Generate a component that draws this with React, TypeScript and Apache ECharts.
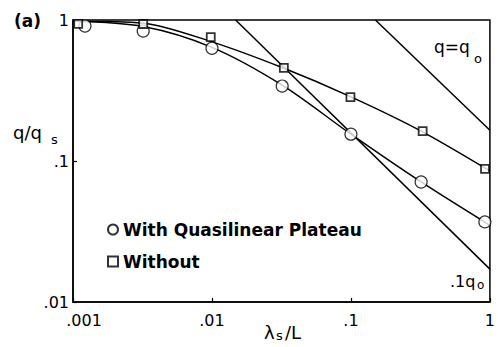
import React, { useEffect, useRef } from "react";
import * as echarts from "echarts";

// Tick values and their printed labels
const xTickValues = [0.001, 0.01, 0.1, 1];
const xTickLabels = [".001", ".01", ".1", "1"];
const yTickValues = [0.01, 0.1, 1];
const yTickLabels = [".01", ".1", "1"];

// Fitted curves
const curveX = [0.001, 0.0032, 0.01, 0.032, 0.1, 0.32, 1];
const curveWithY = [0.98, 0.9, 0.64, 0.345, 0.155, 0.071, 0.035];
const curveWithoutY = [0.98, 0.95, 0.7, 0.46, 0.285, 0.163, 0.085];

// Data markers
const withX = [0.00122, 0.0032, 0.01, 0.032, 0.1, 0.32, 0.92];
const withY = [0.906, 0.836, 0.63, 0.34, 0.155, 0.071, 0.037];
const withoutX = [0.00109, 0.0032, 0.0098, 0.0329, 0.0992, 0.328, 0.922];
const withoutY = [0.94, 0.937, 0.757, 0.457, 0.284, 0.163, 0.088];

// Reference lines q = q0 and q = 0.1 q0
const q0X = [0.15, 1];
const q0Y = [1, 0.165];
const tenthQ0X = [0.0148, 1];
const tenthQ0Y = [1, 0.0171];

const FONT = "DejaVu Sans";

function pairs(xs: number[], ys: number[]) {
  return xs.map((x, i) => [x, ys[i]]);
}

function labelFor(v: number, vals: number[], labels: string[]) {
  const e = Math.round(Math.log10(v));
  const i = vals.findIndex((t) => Math.round(Math.log10(t)) === e);
  return i >= 0 ? labels[i] : "";
}

export default function App() {
  const ref = useRef<HTMLDivElement>(null);
  useEffect(() => {
    if (!ref.current) return;
    const chart = echarts.init(ref.current, null, { renderer: "svg" });
    const lineStyle = { color: "#000", width: 1.5 };
    chart.setOption({
      animation: false,
      backgroundColor: "#fff",
      grid: {
        left: 73,
        right: 3,
        top: 20,
        bottom: 45,
        show: true,
        borderColor: "#000",
        borderWidth: 1.5,
        backgroundColor: "transparent",
      },
      xAxis: {
        type: "log",
        logBase: 10,
        min: 0.001,
        max: 1,
        splitLine: { show: false },
        minorTick: { show: false },
        axisLine: { lineStyle: { color: "#000", width: 1.5 } },
        axisTick: { inside: true, length: 4, lineStyle: { color: "#000", width: 1.2 } },
        axisLabel: {
          margin: 10,
          color: "#000",
          fontSize: 16,
          fontFamily: FONT,
          formatter: (v: number) => {
            const s = labelFor(v, xTickValues, xTickLabels);
            return s === xTickLabels[0] ? "{first|" + s + "}" : s;
          },
          rich: {
            first: { fontSize: 16, fontFamily: FONT, color: "#000", padding: [0, 0, 0, 22] },
          },
        },
      },
      yAxis: {
        type: "log",
        logBase: 10,
        min: 0.01,
        max: 1,
        splitLine: { show: false },
        minorTick: { show: false },
        axisLine: { lineStyle: { color: "#000", width: 1.5 } },
        axisTick: { inside: true, length: 4, lineStyle: { color: "#000", width: 1.2 } },
        axisLabel: {
          margin: 4,
          color: "#000",
          fontSize: 16,
          fontFamily: FONT,
          formatter: (v: number) => labelFor(v, yTickValues, yTickLabels),
        },
      },
      legend: {
        orient: "vertical",
        left: 102,
        top: 216,
        itemGap: 15,
        itemWidth: 10,
        itemHeight: 10,
        textStyle: { fontSize: 17, fontWeight: "bold", fontFamily: FONT, color: "#000" },
        data: ["With Quasilinear Plateau", "Without"],
      },
      series: [
        {
          name: "curveWith",
          type: "line",
          smooth: 0.3,
          showSymbol: false,
          symbol: "none",
          lineStyle,
          data: pairs(curveX, curveWithY),
          z: 2,
        },
        {
          name: "curveWithout",
          type: "line",
          smooth: 0.3,
          showSymbol: false,
          symbol: "none",
          lineStyle,
          data: pairs(curveX, curveWithoutY),
          z: 2,
        },
        {
          name: "q0",
          type: "line",
          symbol: "none",
          lineStyle,
          data: pairs(q0X, q0Y),
          z: 2,
        },
        {
          name: "tenthQ0",
          type: "line",
          symbol: "none",
          lineStyle,
          data: pairs(tenthQ0X, tenthQ0Y),
          z: 2,
        },
        {
          name: "With Quasilinear Plateau",
          type: "scatter",
          symbol: "circle",
          symbolSize: 12,
          itemStyle: { color: "#fff", borderColor: "#000", borderWidth: 1.2 },
          data: pairs(withX, withY),
          z: 5,
        },
        {
          name: "Without",
          type: "scatter",
          symbol: "rect",
          symbolSize: 8,
          itemStyle: { color: "#fff", borderColor: "#000", borderWidth: 1.8 },
          data: pairs(withoutX, withoutY),
          z: 5,
        },
      ],
      graphic: [
        {
          type: "text",
          x: 14,
          y: 21,
          style: { text: "(a)", fontSize: 17, fontWeight: "bold", fontFamily: FONT, fill: "#000", verticalAlign: "middle" },
        },
        {
          type: "text",
          x: 13,
          y: 132,
          style: { text: "q/q", fontSize: 18, fontFamily: FONT, fill: "#000", verticalAlign: "middle" },
        },
        {
          type: "text",
          x: 51,
          y: 139,
          style: { text: "s", fontSize: 13, fontFamily: FONT, fill: "#000", verticalAlign: "middle" },
        },
        {
          type: "text",
          x: 264,
          y: 332,
          style: { text: "λ", fontSize: 18, fontFamily: FONT, fill: "#000", verticalAlign: "middle" },
        },
        {
          type: "text",
          x: 276,
          y: 335,
          style: { text: "s", fontSize: 13, fontFamily: FONT, fill: "#000", verticalAlign: "middle" },
        },
        {
          type: "text",
          x: 285,
          y: 332,
          style: { text: "/L", fontSize: 18, fontFamily: FONT, fill: "#000", verticalAlign: "middle" },
        },
        {
          type: "text",
          x: 434,
          y: 47,
          style: { text: "q=q", fontSize: 17, fontFamily: FONT, fill: "#000", verticalAlign: "middle" },
        },
        {
          type: "text",
          x: 474,
          y: 58,
          style: { text: "o", fontSize: 13, fontFamily: FONT, fill: "#000", verticalAlign: "middle" },
        },
        {
          type: "text",
          x: 450,
          y: 281,
          style: { text: ".1q", fontSize: 16, fontFamily: FONT, fill: "#000", verticalAlign: "middle" },
        },
        {
          type: "text",
          x: 477,
          y: 285,
          style: { text: "o", fontSize: 12, fontFamily: FONT, fill: "#000", verticalAlign: "middle" },
        },
      ],
    });
    return () => chart.dispose();
  }, []);
  return (
    <div
      ref={ref}
      style={{ position: "fixed", left: 0, top: 0, width: 498, height: 347 }}
    />
  );
}
